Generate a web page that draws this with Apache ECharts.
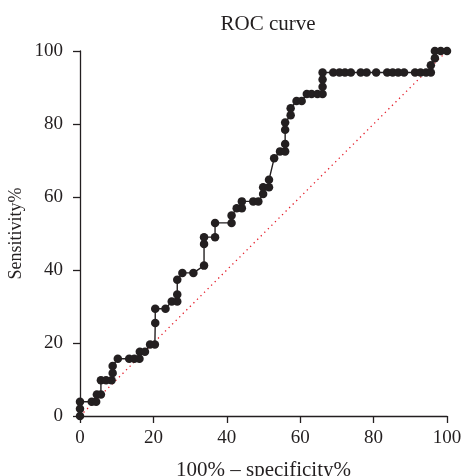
<!DOCTYPE html>
<html>
<head>
<meta charset="utf-8">
<script src="https://cdn.jsdelivr.net/npm/echarts@6/dist/echarts.min.js"></script>
<style>
html,body{margin:0;padding:0;background:#fff;}
#chart{width:463px;height:476px;}
</style>
</head>
<body>
<div id="chart"></div>
<script>
// ROC points: 100% - specificity% (x) and sensitivity% (y)
const fpr = [0, 0, 0, 3.2, 4.4, 4.6, 5.7, 5.7, 7.1, 8.6, 8.9, 8.9, 10.3, 13.4, 14.8, 16.2, 16.3, 17.7, 19.1, 20.4,
  20.5, 20.5, 23.3, 25.0, 26.5, 26.5, 26.5, 27.9, 30.9, 33.8, 33.8, 33.8, 36.8, 36.8, 41.3, 41.3, 42.7, 44.1, 44.1,
  47.2, 48.6, 49.9, 49.9, 51.5, 51.5, 52.9, 54.5, 55.9, 55.9, 55.9, 55.9, 57.4, 57.4, 59.0, 60.4, 61.8, 63.1, 64.7,
  66.1, 66.1, 66.1, 66.1, 69.0, 70.7, 72.2, 73.8, 76.5, 78.1, 80.7, 83.7, 85.2, 86.7, 88.3, 91.3, 92.8, 94.3, 95.6,
  95.6, 96.7, 96.7, 98.3, 100];
const tpr = [0, 2.0, 3.9, 3.9, 3.9, 5.9, 5.9, 9.8, 9.8, 9.8, 11.8, 13.7, 15.7, 15.7, 15.7, 15.7, 17.6, 17.6, 19.6, 19.6,
  25.5, 29.4, 29.4, 31.4, 31.4, 33.3, 37.3, 39.2, 39.2, 41.2, 47.1, 49.0, 49.0, 52.9, 52.9, 54.9, 56.9, 56.9, 58.8,
  58.8, 58.8, 60.8, 62.7, 62.7, 64.7, 70.6, 72.5, 72.5, 74.5, 78.4, 80.4, 82.4, 84.3, 86.3, 86.3, 88.2, 88.2, 88.2,
  88.2, 90.2, 92.2, 94.1, 94.1, 94.1, 94.1, 94.1, 94.1, 94.1, 94.1, 94.1, 94.1, 94.1, 94.1, 94.1, 94.1, 94.1, 94.1,
  96.1, 98.0, 100, 100, 100];
// Reference (chance) line
const diagX = [0, 100];
const diagY = [0, 100];
const xTicks = [0, 20, 40, 60, 80, 100];
const yTicks = [0, 20, 40, 60, 80, 100];

const FONT = '"Liberation Serif", "DejaVu Serif", serif';
const INK = '#231f20';
const chart = echarts.init(document.getElementById('chart'), null, {renderer: 'canvas'});
const rocData = fpr.map((x, i) => [x, tpr[i]]);
const diagData = diagX.map((x, i) => [x, diagY[i]]);

chart.setOption({
  animation: false,
  backgroundColor: '#fff',
  title: {
    text: 'ROC curve',
    left: 263, top: 9, textAlign: 'center',
    textStyle: {fontFamily: FONT, fontSize: 21, fontWeight: 'normal', color: INK}
  },
  grid: {left: 80, right: 16, top: 51, bottom: 60, containLabel: false, outerBoundsMode: 'none'},
  xAxis: {
    type: 'value', min: xTicks[0], max: xTicks[xTicks.length - 1], interval: 20,
    name: '100% – specificity%', nameLocation: 'middle', nameGap: 44, nameMoveOverlap: false,
    nameTextStyle: {fontFamily: FONT, fontSize: 21, color: INK},
    axisLine: {show: true, lineStyle: {color: INK, width: 1.3}},
    axisTick: {show: true, length: 7, lineStyle: {color: INK, width: 1.3}},
    axisLabel: {fontFamily: FONT, fontSize: 19, color: INK, margin: 13},
    splitLine: {show: false}
  },
  yAxis: {
    type: 'value', min: yTicks[0], max: yTicks[yTicks.length - 1], interval: 20,
    name: 'Sensitivity%', nameLocation: 'middle', nameGap: 55, nameMoveOverlap: false,
    nameTextStyle: {fontFamily: FONT, fontSize: 18, color: INK},
    axisLine: {show: true, lineStyle: {color: INK, width: 1.3}},
    axisTick: {show: true, length: 7, lineStyle: {color: INK, width: 1.3}},
    axisLabel: {fontFamily: FONT, fontSize: 19, color: INK, margin: 17},
    splitLine: {show: false}
  },
  series: [
    {
      type: 'line', data: diagData, symbol: 'none', silent: true,
      lineStyle: {color: '#e41e2b', width: 1.3, type: [1.3, 3.7]}, z: 1
    },
    {
      type: 'line', data: rocData, symbol: 'circle', symbolSize: 8.5, silent: true,
      lineStyle: {color: INK, width: 1.4},
      itemStyle: {color: INK}, z: 2
    }
  ]
});
</script>
</body>
</html>
